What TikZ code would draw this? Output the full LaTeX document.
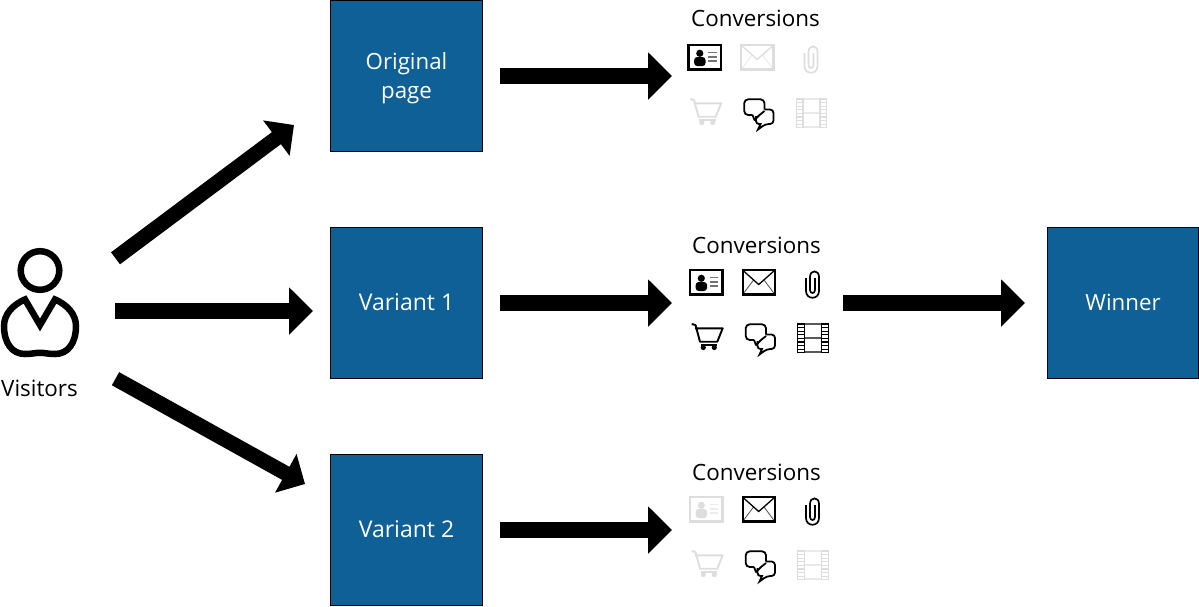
\documentclass[tikz,border=0pt]{standalone}
\usepackage{fontspec}
\setmainfont{Open Sans}
\usetikzlibrary{arrows.meta}
\definecolor{boxblue}{HTML}{0F6096}
\definecolor{iconoff}{HTML}{DDDDDD}
\tikzset{
  box/.style={draw=black,line width=1pt,fill=boxblue,text=white,minimum size=151.5pt,inner sep=0pt,align=center,font=\fontsize{22.3}{29}\selectfont},
  lab/.style={inner sep=0pt,anchor=base,font=\fontsize{22.4}{26}\selectfont},
  bighoriz/.style={line width=16pt,-{Triangle[length=24pt,width=46pt,sep=0pt]},black},
  bigdiag/.style={line width=15pt,-{Triangle[length=22pt,width=43pt,sep=0pt]},black},
  pics/card/.style={code={
    \draw[line width=2.2pt] (1,1) rectangle (33.5,25.5);
    \fill (12.3,9.3) circle[radius=3.6pt];
    \fill[rounded corners=3pt] (6.7,22) -- (6.7,13) -- (18,13) -- (18,22) -- cycle;
    \draw[line width=1.6pt,opacity=.55] (20.5,8.5) -- (29,8.5) (20.5,12.7) -- (29,12.7) (20.5,17) -- (29,17);
  }},
  pics/envelope/.style={code={
    \draw[line width=2.4pt] (53.7,1) rectangle (85.8,25.5);
    \draw[line width=1.3pt] (54,1.5) -- (69.7,15.5) -- (85.5,1.5);
    \draw[line width=.8pt,opacity=.7] (54,25) -- (64.5,11) (85.5,25) -- (75,11);
  }},
  pics/clip/.style={code={
    \draw[line width=1.7pt] (117,9) -- (117,22) .. controls (117,31) and (130,31) .. (130,22)
      -- (130,8) .. controls (130,0.5) and (121,0.5) .. (121,8) -- (121,21)
      .. controls (121,25) and (126,25) .. (126,21) -- (126,9);
  }},
  pics/cart/.style={code={
    \draw[line width=1.9pt,line join=round] (2.7,55) -- (6.5,56) -- (11,72.7) -- (28.3,72.7) -- (33.7,59.3) -- (6,59.3);
    \draw[line width=1.3pt] (11.5,76) -- (28,76);
    \fill (14.3,78.5) circle[radius=2.6pt] (25.3,78.5) circle[radius=2.6pt];
  }},
  pics/bubbles/.style={code={
    \draw[line width=1.8pt,rounded corners=3.5pt] (77,65.5) -- (86,65.5) -- (86,80) -- (78,80) [sharp corners] -- (70.5,85.5) -- (73,80) [rounded corners=3pt] -- (68.5,80) -- (68.5,72);
    \draw[line width=1.8pt,rounded corners=4pt] (65,71) -- (56.7,71) -- (56.7,55.3) -- (77,55.3) -- (77,65.5);
    \draw[line width=1.8pt,line join=round] (65,71) -- (67,76) -- (72,71) -- (77,67);
  }},
  pics/film/.style={code={
    \draw[line width=1.3pt] (108.8,54.3) -- (108.8,83.7) (115.6,54.3) -- (115.6,83.7) (132.6,54.3) -- (132.6,83.7) (139.2,54.3) -- (139.2,83.7);
    \foreach \yy in {55,58.6,62.2,65.8,69.4,73,76.6,80.2,83.4}
      \draw[line width=1.2pt] (108.3,\yy) -- (115.9,\yy) (132.3,\yy) -- (139.7,\yy);
    \draw[line width=1.6pt,opacity=.65] (115.6,55.2) -- (132.6,55.2) (115.6,69) -- (132.6,69) (115.6,82.8) -- (132.6,82.8);
  }},
}
\begin{document}
\begin{tikzpicture}[x=1pt,y=-1pt]
\useasboundingbox (0,0) rectangle (1199,606);
% boxes
\node[box] (orig) at (406.5,76) {\rule{0pt}{21pt}Original\\page};
\node[box] (var1) at (406.5,303) {\fontsize{23}{29}\selectfont Variant 1\rule[-2pt]{0pt}{2pt}};
\node[box] (var2) at (406.5,530) {\fontsize{23}{29}\selectfont Variant 2\rule[-2pt]{0pt}{2pt}};
\node[box] (win) at (1123,303) {Winner\rule[-2pt]{0pt}{2pt}};
% visitor icon
\draw[line width=6.5pt] (40,270.5) circle[radius=19.3pt];
\draw[line width=6.5pt,miter limit=10] (40,325) -- (55,299.5) .. controls (68,305) and (76,315) .. (76,326)
  .. controls (76,343) and (68,354) .. (55,354) .. controls (48,354) and (45,352.8) .. (40,352.8)
  .. controls (35,352.8) and (32,354) .. (25,354) .. controls (12,354) and (4,343) .. (4,326)
  .. controls (4,315) and (12,305) .. (25,299.5) -- cycle;
\node[lab] (visitors) at (39.5,396.5) {Visitors};
% conversions labels
\node[lab] (conv1) at (755.5,26) {Conversions};
\node[lab] (conv2) at (756.5,253) {Conversions};
\node[lab] (conv3) at (756.5,480) {Conversions};
% icons, top group
\begin{scope}[shift={(687.5,44)}]
\pic[color=black] {card}; \pic[color=iconoff] {envelope}; \pic[color=iconoff] {clip};
\pic[color=iconoff] {cart}; \pic[color=black] {bubbles}; \pic[color=iconoff] {film};
\end{scope}
% icons, middle group
\begin{scope}[shift={(689,269)}]
\pic[color=black] {card}; \pic[color=black] {envelope}; \pic[color=black] {clip};
\pic[color=black] {cart}; \pic[color=black] {bubbles}; \pic[color=black] {film};
\end{scope}
% icons, bottom group
\begin{scope}[shift={(689,496)}]
\pic[color=iconoff] {card}; \pic[color=black] {envelope}; \pic[color=black] {clip};
\pic[color=iconoff] {cart}; \pic[color=black] {bubbles}; \pic[color=iconoff] {film};
\end{scope}
% connector ends
\coordinate (vtop) at (115.5,258.3);
\coordinate (vtopend) at (294,125);
\coordinate (vmid) at (115,311);
\coordinate (vmidend) at (313,311);
\coordinate (vbot) at (115.5,378.7);
\coordinate (vbotend) at (305,484);
\coordinate (o1) at (500,76);
\coordinate (o1end) at (672,76);
\coordinate (o2) at (500,303);
\coordinate (o2end) at (672,303);
\coordinate (o3) at (500,530);
\coordinate (o3end) at (672,530);
\coordinate (w1) at (843,303);
\coordinate (w1end) at (1025,303);
\draw[bigdiag] (vtop) -- (vtopend);
\draw[bighoriz] (vmid) -- (vmidend);
\draw[bigdiag] (vbot) -- (vbotend);
\draw[bighoriz] (o1) -- (o1end);
\draw[bighoriz] (o2) -- (o2end);
\draw[bighoriz] (o3) -- (o3end);
\draw[bighoriz] (w1) -- (w1end);
\end{tikzpicture}
\end{document}
